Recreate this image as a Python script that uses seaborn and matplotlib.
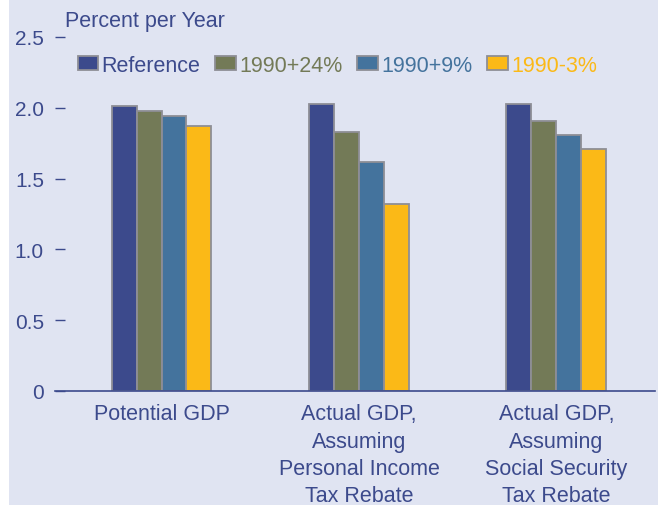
import pandas as pd
import matplotlib.pyplot as plt
import seaborn as sns
from matplotlib.patches import Rectangle, Patch

# data
categories = ['Potential GDP',
              'Actual GDP,\nAssuming\nPersonal Income\nTax Rebate',
              'Actual GDP,\nAssuming\nSocial Security\nTax Rebate']
scenarios = ['Reference', '1990+24%', '1990+9%', '1990-3%']
reference = [2.01, 2.03, 2.03]
plus24 = [1.98, 1.83, 1.91]
plus9 = [1.94, 1.62, 1.81]
minus3 = [1.87, 1.32, 1.71]

colors = ['#3c4a8c', '#737a57', '#44739d', '#fbb917']
bg = '#e0e4f2'
navy = '#3c4a8c'

df = pd.DataFrame({'Reference': reference, '1990+24%': plus24,
                   '1990+9%': plus9, '1990-3%': minus3}, index=categories)
df = df.reset_index().rename(columns={'index': 'Category'})
df_melted = df.melt(id_vars='Category', var_name='Scenario', value_name='Value')

plt.rcParams['font.family'] = ['Liberation Sans', 'DejaVu Sans']
fig = plt.figure(figsize=(6.58, 5.06), dpi=100, facecolor='white')
fig.patches.append(Rectangle((9 / 658, 0), 1, 1, transform=fig.transFigure,
                             facecolor=bg, edgecolor='none', zorder=-10))
ax = fig.add_axes([55 / 658, 114 / 506, 600 / 658, 354 / 506])
ax.set_facecolor(bg)

sns.barplot(x='Category', y='Value', hue='Scenario', data=df_melted,
            palette=colors, hue_order=scenarios, order=categories,
            width=0.505, edgecolor='#8e8e96', linewidth=1.3, saturation=1,
            legend=False, ax=ax)

ax.set_xlim(-0.54, 2.5)
ax.set_ylim(0, 2.5)
ax.set_yticks([0, 0.5, 1.0, 1.5, 2.0, 2.5])
ax.set_yticklabels(['0', '0.5', '1.0', '1.5', '2.0', '2.5'])
ax.set_xlabel('')
ax.set_ylabel('')
for s in ['top', 'right', 'left']:
    ax.spines[s].set_visible(False)
ax.spines['bottom'].set_color(navy)
ax.spines['bottom'].set_linewidth(1.2)
ax.tick_params(axis='y', direction='in', length=7, width=1, color=navy,
               labelcolor=navy, labelsize=15, pad=8)
ax.tick_params(axis='x', length=0, labelcolor=navy, labelsize=15.5, pad=9)
for lab in ax.get_xticklabels():
    lab.set_linespacing(1.38)
    lab.set_verticalalignment('top')

fig.text(65 / 658, 1 - 21 / 506, 'Percent per Year', color=navy,
         fontsize=15.5, va='center', ha='left')

handles = [Patch(facecolor=c, edgecolor='#8e8e96', linewidth=1.3) for c in colors]
fig.legend(handles, scenarios, loc='center left', ncol=4, frameon=False,
           bbox_to_anchor=(67 / 658, 1 - 66 / 506), fontsize=15.5,
           labelcolor=colors, handlelength=0.95, handleheight=0.65,
           handletextpad=0.15, columnspacing=0.7, borderpad=0)

plt.savefig('out.png', dpi=100, facecolor=fig.get_facecolor())
